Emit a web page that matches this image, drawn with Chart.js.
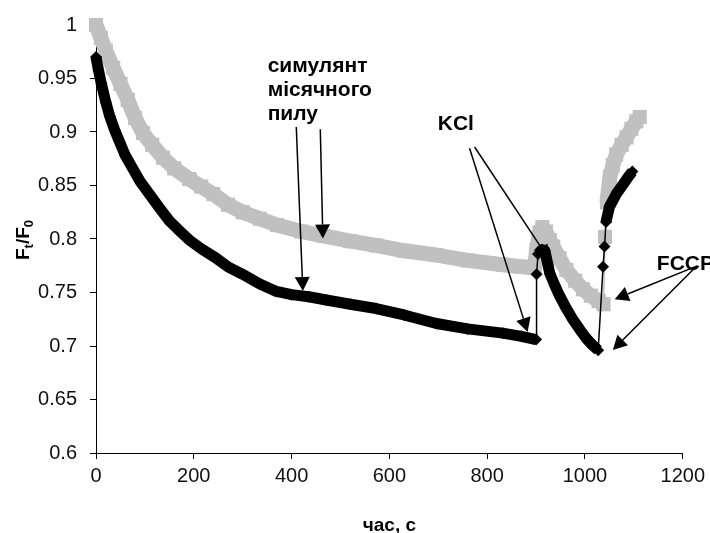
<!DOCTYPE html>
<html>
<head>
<meta charset="utf-8">
<script src="https://cdn.jsdelivr.net/npm/chart.js@4.4.1/dist/chart.umd.min.js"></script>
<style>
  html, body { margin: 0; padding: 0; background: #fff; }
  #wrap { width: 710px; height: 533px; position: relative; }
</style>
</head>
<body>
<div id="wrap"><canvas id="chart"></canvas></div>
<script>
const xTickValues = [0, 200, 400, 600, 800, 1000, 1200];
const yTickValues = [0.6, 0.65, 0.7, 0.75, 0.8, 0.85, 0.9, 0.95, 1];

// сірі квадрати
const grayTime = [0, 10, 20, 35, 50, 65, 80, 96, 115, 137, 160, 191, 215, 240, 270, 300, 335, 370, 420, 465,
    520, 573, 630, 696, 760, 832, 870, 897, 901, 907, 913, 920, 928, 935, 948, 962, 980, 996, 1012, 1028,
    1038, 1041, 1045, 1051, 1057, 1064, 1075, 1085, 1095, 1105, 1112];
const grayValue = [1.000, 0.988, 0.976, 0.960, 0.945, 0.930, 0.913, 0.899, 0.888, 0.876, 0.866, 0.856, 0.849, 0.842, 0.832, 0.825, 0.819, 0.813, 0.807, 0.803,
    0.798, 0.794, 0.789, 0.785, 0.780, 0.776, 0.774, 0.773, 0.790, 0.806, 0.811, 0.807, 0.799, 0.793, 0.782, 0.771, 0.761, 0.753, 0.747, 0.742,
    0.739, 0.802, 0.834, 0.858, 0.869, 0.879, 0.888, 0.895, 0.903, 0.910, 0.914];

// чорні ромби
const blackTime = [0, 5, 11, 20, 28, 38, 48, 60, 75, 90, 109, 130, 150, 170, 191, 215, 246, 270, 300, 335,
    369, 400, 435, 471, 520, 573, 630, 696, 760, 832, 870, 900, 901, 904, 912, 918, 928, 938, 948, 962,
    975, 990, 1003, 1015, 1027, 1037, 1040, 1043, 1050, 1064, 1078, 1090, 1097];
const blackValue = [0.970, 0.958, 0.945, 0.928, 0.915, 0.902, 0.891, 0.878, 0.866, 0.854, 0.842, 0.829, 0.817, 0.808, 0.799, 0.791, 0.782, 0.774, 0.767, 0.758,
    0.751, 0.748, 0.746, 0.743, 0.739, 0.735, 0.729, 0.721, 0.716, 0.712, 0.709, 0.706, 0.767, 0.786, 0.790, 0.789, 0.768, 0.757, 0.747, 0.735,
    0.725, 0.715, 0.707, 0.701, 0.696, 0.774, 0.793, 0.816, 0.830, 0.842, 0.851, 0.859, 0.863];

// підписи та стрілки (в одиницях осей)
const notes = [
    { lines: ['симулянт', 'місячного', 'пилу'], x: 351, y: 0.9559 },
    { lines: ['KCl'], x: 699, y: 0.9016 },
    { lines: ['FCCP'], x: 1147, y: 0.771 }
];
const arrows = [
    { from: [409.6, 0.9046], to: [423, 0.7514] },
    { from: [458.7, 0.9025], to: [464, 0.8005] },
    { from: [764, 0.8848], to: [882.8, 0.7131] },
    { from: [774.3, 0.886], to: [926.4, 0.7811] },
    { from: [1228.5, 0.7747], to: [1060.8, 0.7437] },
    { from: [1228.5, 0.7747], to: [1057, 0.6963] }
];

const FONT = "'Liberation Sans', Arial, sans-serif";

function toPoints(xs, ys) {
    return xs.map((x, i) => ({ x: x, y: ys[i] }));
}

// різкі стрибки малюються тонкою лінією
function isJump(ctx) {
    const a = ctx.p0.parsed, b = ctx.p1.parsed;
    return Math.abs(b.y - a.y) / Math.max(b.x - a.x, 0.1) > 0.005;
}

const annotationsPlugin = {
    id: 'annotations',
    afterDatasetsDraw(chart) {
        const c = chart.ctx;
        const xs = chart.scales.x, ys = chart.scales.y;
        c.save();
        c.fillStyle = '#000';
        c.strokeStyle = '#000';
        c.font = 'bold 21px ' + FONT;
        c.textBaseline = 'alphabetic';
        c.textAlign = 'left';
        notes.forEach(n => {
            const px = xs.getPixelForValue(n.x), py = ys.getPixelForValue(n.y);
            n.lines.forEach((t, i) => c.fillText(t, px, py + i * 24));
        });

        c.lineWidth = 1.5;
        arrows.forEach(a => {
            const x0 = xs.getPixelForValue(a.from[0]), y0 = ys.getPixelForValue(a.from[1]);
            const x1 = xs.getPixelForValue(a.to[0]), y1 = ys.getPixelForValue(a.to[1]);
            const ang = Math.atan2(y1 - y0, x1 - x0);
            const len = 14, half = 7.5;
            const bx = x1 - Math.cos(ang) * len, by = y1 - Math.sin(ang) * len;
            c.beginPath();
            c.moveTo(x0, y0);
            c.lineTo(bx, by);
            c.stroke();
            c.beginPath();
            c.moveTo(x1, y1);
            c.lineTo(bx + Math.sin(ang) * half, by - Math.cos(ang) * half);
            c.lineTo(bx - Math.sin(ang) * half, by + Math.cos(ang) * half);
            c.closePath();
            c.fill();
        });

        // назва осі X
        const area = chart.chartArea;
        c.font = 'bold 19px ' + FONT;
        c.textAlign = 'center';
        c.fillText('час, с', (area.left + area.right) / 2, 531);

        // назва осі Y: Ft/F0 з індексами
        const parts = [['F', false], ['t', true], ['/', false], ['F', false], ['0', true]];
        const big = 'bold 19px ' + FONT, small = 'bold 13px ' + FONT;
        let total = 0;
        parts.forEach(p => { c.font = p[1] ? small : big; total += c.measureText(p[0]).width; });
        c.translate(29, (area.top + area.bottom) / 2 + 1);
        c.rotate(-Math.PI / 2);
        c.textAlign = 'left';
        let cx = -total / 2;
        parts.forEach(p => {
            c.font = p[1] ? small : big;
            c.fillText(p[0], cx, p[1] ? 4 : 0);
            cx += c.measureText(p[0]).width;
        });
        c.restore();
    }
};

const chart = new Chart(document.getElementById('chart'), {
    type: 'scatter',
    data: {
        datasets: [{
            label: 'black',
            data: toPoints(blackTime, blackValue),
            showLine: true,
            borderColor: '#000',
            backgroundColor: '#000',
            borderJoinStyle: 'round',
            pointStyle: 'rectRot',
            pointRadius: 6,
            pointBorderWidth: 0,
            clip: false,
            segment: { borderWidth: ctx => isJump(ctx) ? 1.5 : 11 }
        }, {
            label: 'gray',
            data: toPoints(grayTime, grayValue),
            showLine: true,
            borderColor: '#c0c0c0',
            backgroundColor: '#c0c0c0',
            borderJoinStyle: 'round',
            pointStyle: 'rect',
            pointRadius: 10,
            pointBorderWidth: 0,
            clip: false,
            segment: { borderWidth: ctx => isJump(ctx) ? 1.5 : 15 }
        }]
    },
    options: {
        responsive: true,
        maintainAspectRatio: false,
        animation: false,
        layout: { padding: { top: 18, right: 27, left: 0, bottom: 0 } },
        plugins: {
            legend: { display: false },
            tooltip: { enabled: false }
        },
        scales: {
            x: {
                type: 'linear',
                min: 0,
                max: 1200,
                afterFit: s => { s.height = 80; },
                afterBuildTicks: s => { s.ticks = xTickValues.map(v => ({ value: v })); },
                grid: { drawOnChartArea: false, color: '#000', tickLength: 6 },
                border: { color: '#000', width: 1 },
                ticks: {
                    color: '#111',
                    font: { family: FONT, size: 20 },
                    padding: 5,
                    maxRotation: 0,
                    autoSkip: false,
                    callback: v => String(v)
                }
            },
            y: {
                type: 'linear',
                min: 0.6,
                max: 1,
                afterFit: s => { s.width = 96; },
                afterBuildTicks: s => { s.ticks = yTickValues.map(v => ({ value: v })); },
                grid: { drawOnChartArea: false, color: '#000', tickLength: 6 },
                border: { color: '#000', width: 1 },
                ticks: {
                    color: '#111',
                    font: { family: FONT, size: 20 },
                    padding: 13,
                    autoSkip: false,
                    callback: v => String(Number(v.toFixed(2)))
                }
            }
        }
    },
    plugins: [annotationsPlugin]
});
</script>
</body>
</html>
